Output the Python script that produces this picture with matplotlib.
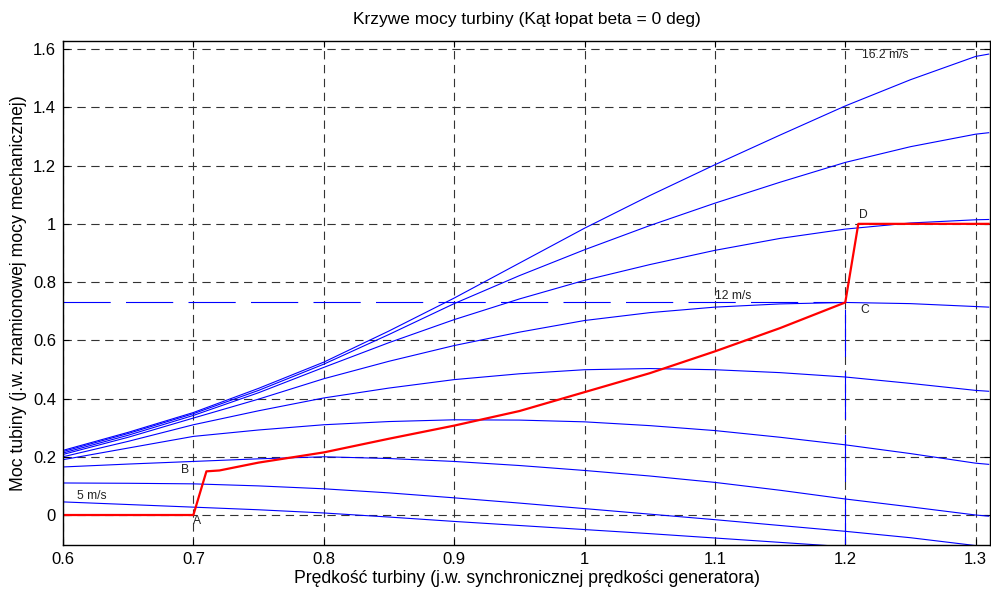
import matplotlib.pyplot as plt

plt.rcParams['font.family'] = ['Liberation Sans', 'DejaVu Sans']
plt.rcParams['lines.scale_dashes'] = False

# turbine speed (pu) at which the curves were read
omega = [0.6, 0.65, 0.7, 0.75, 0.8, 0.85, 0.9, 0.95, 1.0, 1.05, 1.1, 1.15, 1.2, 1.25, 1.3, 1.31]

# mechanical power (pu) for each wind speed
wind = ["5", "6.4", "7.8", "9.2", "10.6", "12", "13.4", "14.8", "16.2"]
p_5 = [0.045, 0.036, 0.027, 0.018, 0.007, -0.007, -0.022, -0.036, -0.050, -0.064, -0.079, -0.094, -0.109, -0.124, -0.140, -0.143]
p_6_4 = [0.110, 0.109, 0.107, 0.100, 0.090, 0.076, 0.059, 0.041, 0.022, 0.003, -0.016, -0.036, -0.056, -0.078, -0.105, -0.108]
p_7_8 = [0.165, 0.175, 0.184, 0.193, 0.200, 0.194, 0.184, 0.170, 0.153, 0.134, 0.112, 0.085, 0.055, 0.028, 0.000, -0.004]
p_9_2 = [0.190, 0.230, 0.270, 0.292, 0.310, 0.321, 0.327, 0.326, 0.320, 0.307, 0.290, 0.267, 0.241, 0.211, 0.178, 0.174]
p_10_6 = [0.200, 0.253, 0.310, 0.358, 0.402, 0.436, 0.465, 0.485, 0.499, 0.503, 0.499, 0.489, 0.474, 0.452, 0.428, 0.425]
p_12 = [0.208, 0.267, 0.333, 0.398, 0.468, 0.528, 0.582, 0.628, 0.668, 0.695, 0.714, 0.725, 0.730, 0.726, 0.716, 0.714]
p_13_4 = [0.213, 0.274, 0.342, 0.420, 0.507, 0.592, 0.671, 0.742, 0.806, 0.860, 0.909, 0.950, 0.982, 1.003, 1.014, 1.015]
p_14_8 = [0.218, 0.280, 0.348, 0.428, 0.518, 0.620, 0.726, 0.822, 0.911, 0.994, 1.071, 1.143, 1.211, 1.265, 1.308, 1.313]
p_16_2 = [0.222, 0.284, 0.352, 0.435, 0.525, 0.632, 0.745, 0.865, 0.985, 1.097, 1.203, 1.305, 1.405, 1.495, 1.575, 1.583]
curves = [p_5, p_6_4, p_7_8, p_9_2, p_10_6, p_12, p_13_4, p_14_8, p_16_2]

# tracking characteristic A-B-C-D
omega_track = [0.6, 0.7, 0.71, 0.72, 0.75, 0.8, 0.85, 0.9, 0.95, 1.0, 1.05, 1.1, 1.15, 1.2, 1.21, 1.31]
p_track = [0.0, 0.0, 0.15, 0.153, 0.18, 0.215, 0.262, 0.307, 0.357, 0.422, 0.487, 0.562, 0.642, 0.73, 1.0, 1.0]

# base speed / max power at base wind speed (point C)
omega_base = 1.2
p_base = 0.73

fig = plt.figure(figsize=(9.91, 5.9), dpi=100)
ax = fig.add_axes([63 / 991, 45 / 590, 927 / 991, 504 / 590])

for p in curves:
    ax.plot(omega, p, color='#0000ff', lw=0.8)

ax.plot([0.6, omega_base], [p_base, p_base], color='#0000ff', lw=0.8, dashes=(34, 11))
ax.plot([omega_base, omega_base], [-0.1, p_base], color='#0000ff', lw=0.8, dashes=(34, 11))
ax.plot(omega_track, p_track, color='#ff0000', lw=1.6)

# labels on the curves
small = dict(fontsize=8.7, color='#222222')
ax.text(0.6105, 0.066, "5 m/s", va='center', **small)
ax.text(1.1, 0.753, "12 m/s", va='center', **small)
ax.text(1.213, 1.58, "16.2 m/s", va='center', **small)
ax.text(0.703, -0.022, "A", ha='center', va='center', **small)
ax.text(0.6935, 0.155, "B", ha='center', va='center', **small)
ax.text(1.215, 0.705, "C", ha='center', va='center', **small)
ax.text(1.214, 1.03, "D", ha='center', va='center', **small)

ax.set_xlim(0.6, 1.311)
ax.set_ylim(-0.103, 1.628)
ax.set_xticks([0.6, 0.7, 0.8, 0.9, 1.0, 1.1, 1.2, 1.3])
ax.set_xticklabels(["0.6", "0.7", "0.8", "0.9", "1", "1.1", "1.2", "1.3"])
ax.set_yticks([0, 0.2, 0.4, 0.6, 0.8, 1.0, 1.2, 1.4, 1.6])
ax.set_yticklabels(["0", "0.2", "0.4", "0.6", "0.8", "1", "1.2", "1.4", "1.6"])
ax.tick_params(direction='in', top=True, right=True, length=4, labelsize=12, pad=5)
ax.grid(True, color='#333333', lw=0.8, linestyle=(0, (6, 4)))
for s in ax.spines.values():
    s.set_linewidth(1.0)

ax.set_title("Krzywe mocy turbiny (Kąt łopat beta = 0 deg)", fontsize=12.5, pad=12)
ax.set_xlabel("Prędkość turbiny (j.w. synchronicznej prędkości generatora)", fontsize=12.7, labelpad=2)
ax.set_ylabel("Moc tubiny (j.w. znamionowej mocy mechanicznej)", fontsize=12.7, labelpad=4)

fig.savefig("out.png", dpi=100)
